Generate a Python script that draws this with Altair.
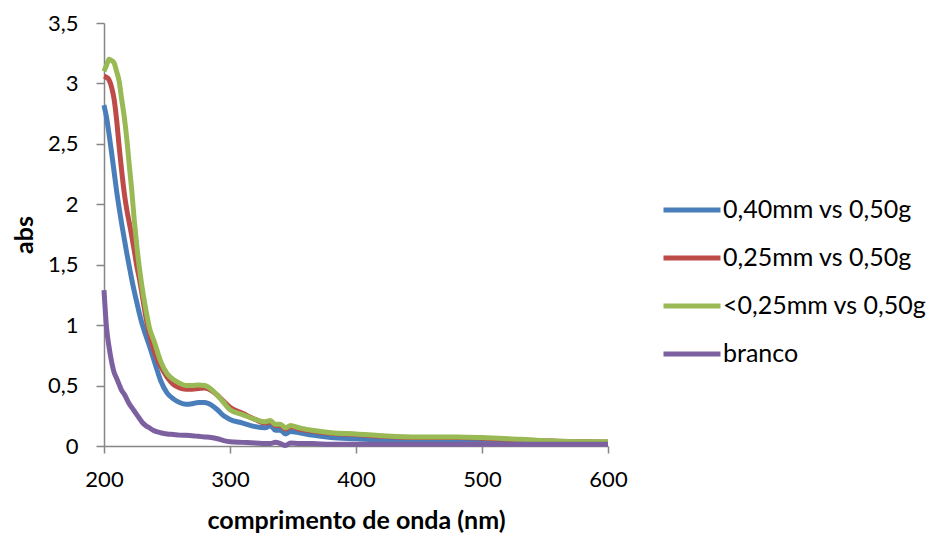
import altair as alt
import pandas as pd

wavelength = [200, 202, 204, 206, 208, 210, 212, 214, 216, 218, 220, 222, 224, 226, 228, 230,
              233, 236, 240, 245, 250, 255, 260, 265, 270, 275, 280, 285, 290, 295, 300,
              310, 320, 328, 332, 336, 340, 344, 348, 355, 365, 380, 400, 420, 450, 480,
              500, 530, 560, 600]

blue = [2.82, 2.72, 2.58, 2.43, 2.27, 2.11, 1.97, 1.84, 1.72, 1.60, 1.49, 1.38, 1.28, 1.19, 1.10, 1.02,
        0.92, 0.83, 0.70, 0.54, 0.44, 0.39, 0.36, 0.345, 0.35, 0.36, 0.36, 0.34, 0.30, 0.25, 0.22,
        0.19, 0.16, 0.15, 0.17, 0.13, 0.13, 0.10, 0.12, 0.11, 0.09, 0.07, 0.06, 0.05, 0.05, 0.05,
        0.05, 0.04, 0.03, 0.03]

red = [3.06, 3.05, 3.03, 2.97, 2.87, 2.70, 2.48, 2.28, 2.10, 1.96, 1.85, 1.74, 1.62, 1.49, 1.39, 1.27,
       1.08, 0.93, 0.78, 0.66, 0.57, 0.51, 0.48, 0.47, 0.47, 0.475, 0.48, 0.46, 0.42, 0.37, 0.32,
       0.27, 0.22, 0.19, 0.20, 0.17, 0.17, 0.14, 0.16, 0.14, 0.125, 0.105, 0.095, 0.08, 0.07, 0.07,
       0.065, 0.05, 0.04, 0.03]

green = [3.10, 3.15, 3.20, 3.19, 3.17, 3.10, 3.02, 2.87, 2.73, 2.55, 2.33, 2.12, 1.87, 1.66, 1.48, 1.33,
         1.14, 0.98, 0.86, 0.70, 0.60, 0.55, 0.52, 0.50, 0.50, 0.505, 0.50, 0.47, 0.42, 0.36, 0.30,
         0.26, 0.22, 0.20, 0.21, 0.18, 0.18, 0.15, 0.17, 0.15, 0.13, 0.11, 0.10, 0.085, 0.075, 0.075,
         0.07, 0.055, 0.04, 0.035]

purple = [1.29, 0.98, 0.82, 0.70, 0.61, 0.56, 0.51, 0.46, 0.43, 0.39, 0.35, 0.32, 0.29, 0.26, 0.23, 0.20,
          0.17, 0.15, 0.125, 0.11, 0.10, 0.095, 0.09, 0.088, 0.085, 0.08, 0.075, 0.07, 0.06, 0.045, 0.035,
          0.03, 0.025, 0.02, 0.02, 0.03, 0.02, 0.005, 0.025, 0.02, 0.02, 0.015, 0.015, 0.015, 0.015, 0.015,
          0.015, 0.015, 0.015, 0.015]

series_names = ["0,40mm vs 0,50g", "0,25mm vs 0,50g", "<0,25mm vs 0,50g", "branco"]
series_colors = ["#4A7EBB", "#BE4B48", "#98B954", "#7D60A0"]

rows = []
for name, vals in zip(series_names, [blue, red, green, purple]):
    for xv, yv in zip(wavelength, vals):
        rows.append({"serie": name, "nm": xv, "abs": yv})
df = pd.DataFrame(rows)

FONT = "Lato"

chart = alt.Chart(df).mark_line(strokeWidth=5, interpolate="monotone").encode(
    x=alt.X("nm:Q", scale=alt.Scale(domain=[200, 600], nice=False),
            axis=alt.Axis(values=[200, 300, 400, 500, 600], title="comprimento de onda (nm)",
                          grid=False, tickSize=7, labelPadding=16, titlePadding=18,
                          labelFlush=False, labelOverlap=False)),
    y=alt.Y("abs:Q", scale=alt.Scale(domain=[0, 3.5], nice=False),
            axis=alt.Axis(values=[0, 0.5, 1, 1.5, 2, 2.5, 3, 3.5], title="abs",
                          labelExpr="replace(toString(datum.value), '.', ',')",
                          grid=False, tickSize=8, labelPadding=18, titlePadding=10,
                          labelFlush=False, labelOverlap=False)),
    color=alt.Color("serie:N", scale=alt.Scale(domain=series_names, range=series_colors),
                    sort=series_names,
                    legend=alt.Legend(title=None, orient="none", legendX=557, legendY=156,
                                      symbolType="stroke", symbolSize=3249, symbolStrokeWidth=5,
                                      labelFontSize=25, labelFont=FONT, labelColor="#000000",
                                      rowPadding=4, labelOffset=0, labelLimit=300)),
    order=alt.Order("nm:Q"),
).properties(
    width=504, height=423,
    autosize=alt.AutoSizeParams(type="none"),
    padding={"left": 104, "top": 23, "right": 324, "bottom": 93},
).configure_view(stroke=None).configure_axis(
    domainColor="#868686", tickColor="#868686", domainWidth=1.5, tickWidth=1.5,
    labelFont=FONT, labelFontSize=22, labelColor="#000000",
    titleFont=FONT, titleFontSize=25, titleFontWeight="bold", titleColor="#000000",
)

chart.save("out.html", embed_options={"renderer": "svg", "actions": False})
